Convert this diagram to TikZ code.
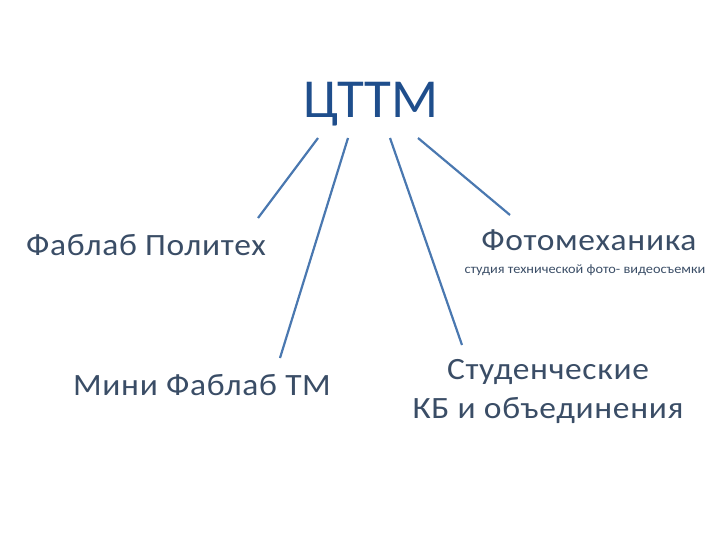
\documentclass[tikz,border=0pt]{standalone}
\usepackage{fontspec}
\setmainfont{Carlito}
\newfontfamily\wide[LetterSpace=2]{Carlito}
\definecolor{tt}{HTML}{1F4E8C}
\definecolor{lab}{HTML}{3A4D66}
\definecolor{ln}{HTML}{4A78B0}
\begin{document}
\begin{tikzpicture}[x=1pt,y=-1pt,
  lbl/.style={text=lab,font=\wide\fontsize{31}{34}\selectfont,inner sep=0pt},
  con/.style={draw=ln,line width=2.2pt}]
\useasboundingbox (0,0) rectangle (720,540);
\node[inner sep=0pt,text=tt,font=\fontsize{55}{60}\selectfont] (t) at (371,104) {ЦТТМ};
\node[lbl] (a) at (146,245) {\scalebox{1.08}[1]{Фаблаб Политех}};
\node[lbl] (b) at (589,240) {\scalebox{1.08}[1]{Фотомеханика}};
\node[inner sep=0pt,text=lab,font=\fontsize{13}{14}\selectfont] (bs) at (585,270) {\scalebox{1.1}[1]{студия технической фото- видеосъемки}};
\node[lbl] (c) at (202,385) {\scalebox{1.08}[1]{Мини Фаблаб ТМ}};
\node[lbl,align=center] (d) at (548,391) {\scalebox{1.08}[1]{Студенческие}\\[5pt]\scalebox{1.08}[1]{КБ и объединения}};
\coordinate (t1) at (318,138); \coordinate (a1) at (258,218);
\coordinate (t2) at (348,138); \coordinate (c1) at (280,358);
\coordinate (t3) at (390,138); \coordinate (d1) at (462,345);
\coordinate (t4) at (418,138); \coordinate (b1) at (510,215);
\draw[con] (t1) -- (a1);
\draw[con] (t2) -- (c1);
\draw[con] (t3) -- (d1);
\draw[con] (t4) -- (b1);
\end{tikzpicture}
\end{document}
